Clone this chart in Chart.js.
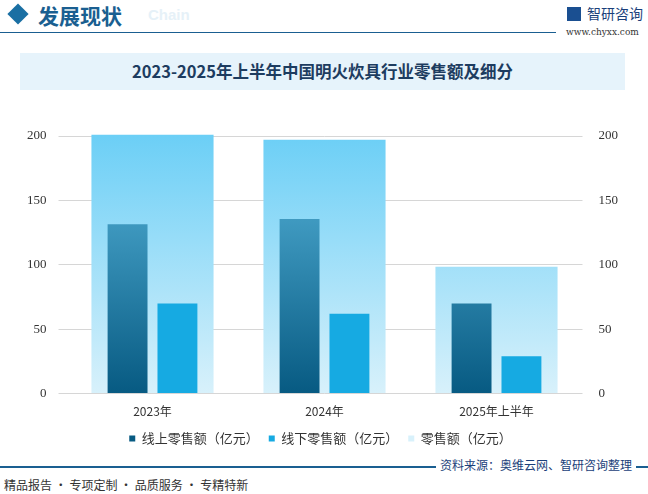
<!DOCTYPE html>
<html><head><meta charset="utf-8">
<script src="https://cdn.jsdelivr.net/npm/chart.js@4"></script>
<style>
body{margin:0;width:648px;height:494px;position:relative;background:#fff;font-family:"Noto Sans CJK SC",sans-serif;overflow:hidden}
.abs{position:absolute}
</style></head><body>
<div class="abs" style="left:8px;top:4px;width:20px;height:20px;background:#1a6fa3;transform:rotate(45deg) scale(0.75)"></div>
<div class="abs" style="left:38px;top:0px;font-size:21px;font-weight:bold;color:#1a5f91">发展现状</div>
<div class="abs" style="left:148px;top:6px;font-size:15px;font-weight:bold;color:#e6f1f8;font-family:Arial">Chain</div>
<div class="abs" style="left:0;top:32px;width:556px;height:1px;background:#1a5f91"></div>
<div class="abs" style="left:567px;top:3px;font-size:14px;color:#1a3f7a"><span style="display:inline-block;width:14px;height:14px;background:#1a4f91;margin-right:6px;vertical-align:-2px"></span>智研咨询</div>
<div class="abs" style="left:566px;top:27px;font-size:9px;color:#333;font-family:'DejaVu Serif'">www.chyxx.com</div>
<div class="abs" style="left:20px;top:53px;width:605px;height:37px;background:#e6f3fb;text-align:center;line-height:37px;font-size:16.5px;font-weight:bold;color:#1d3c60;font-family:'Noto Sans CJK SC'">2023-2025年上半年中国明火炊具行业零售额及细分</div>
<div class="abs" style="left:0;top:100px;width:648px;height:360px"><canvas id="c" width="648" height="355"></canvas></div>
<div class="abs" style="left:0;top:466px;width:648px;height:2px;background:#1a5f91"></div>
<div class="abs" style="left:4px;top:476px;font-size:12px;color:#333">精品报告 · 专项定制 · 品质服务 · 专精特新</div>
<div class="abs" style="right:12px;top:456px;font-size:12px;color:#1a3f7a;background:#fff;padding:0 4px">资料来源：奥维云网、智研咨询整理</div>
<script>
const categories = ["2023年", "2024年", "2025年上半年"];
const onlineSales = [131.5, 135.5, 70];
const offlineSales = [70, 62, 29];
const totalSales = [201, 197, 98.5];
const tickValues = [0, 50, 100, 150, 200];

function grad(c, top, bottom) {
    const area = c.chart.chartArea;
    if (!area) return top;
    const g = c.chart.ctx.createLinearGradient(0, area.top, 0, area.bottom);
    g.addColorStop(0, top);
    g.addColorStop(1, bottom);
    return g;
}

const tickFont = { family: "Liberation Serif", size: 13 };
new Chart(document.getElementById("c"), {
    type: "bar",
    data: {
        labels: categories,
        datasets: [
            {
                label: "线上零售额（亿元）",
                data: onlineSales,
                backgroundColor: (c) => grad(c, "#5ab8de", "#075a82"),
                categoryPercentage: 0.58,
                barPercentage: 0.8,
                order: 1,
            },
            {
                label: "线下零售额（亿元）",
                data: offlineSales,
                backgroundColor: "#16aae2",
                categoryPercentage: 0.58,
                barPercentage: 0.8,
                order: 1,
            },
            {
                label: "零售额（亿元）",
                data: totalSales,
                grouped: false,
                clip: 6,
                backgroundColor: (c) => grad(c, "#6ccff6", "#d8f1fb"),
                categoryPercentage: 0.71,
                barPercentage: 1,
                order: 2,
            },
        ],
    },
    options: {
        responsive: false,
        animation: false,
        layout: { padding: { left: 15, right: 22, top: 36, bottom: 0 } },
        plugins: {
            tooltip: { enabled: false },
            legend: {
                position: "bottom",
                labels: {
                    sort: (a, b) => a.datasetIndex - b.datasetIndex,
                    usePointStyle: true,
                    pointStyle: "rect",
                    boxWidth: 6,
                    boxHeight: 6,
                    padding: 10,
                    color: "#333",
                    font: { family: "Noto Sans CJK SC", size: 13 },
                },
            },
        },
        scales: {
            x: {
                grid: { display: false },
                border: { display: false },
                ticks: { color: "#333", maxRotation: 0, font: { family: "Noto Sans CJK SC", size: 12 } },
            },
            y: {
                min: 0,
                max: 200,
                afterBuildTicks: (s) => { s.ticks = tickValues.map((v) => ({ value: v })); },
                grid: { color: "#d6d6d6" },
                border: { display: false },
                ticks: { color: "#333", font: tickFont, padding: 12 },
            },
            y2: {
                position: "right",
                min: 0,
                max: 200,
                afterBuildTicks: (s) => { s.ticks = tickValues.map((v) => ({ value: v })); },
                grid: { display: false },
                border: { display: false },
                ticks: { color: "#333", font: tickFont, padding: 8 },
            },
        },
    },
});
</script>
</body></html>
